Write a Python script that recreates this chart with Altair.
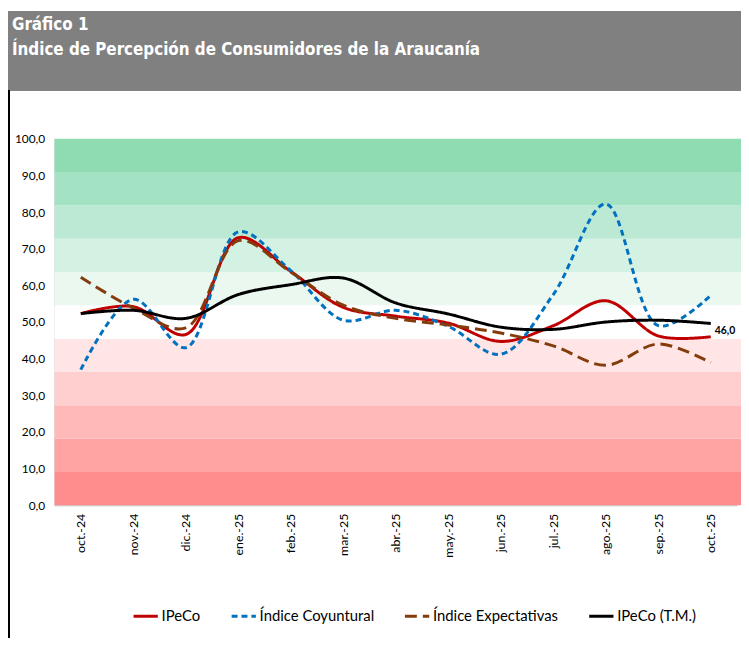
import altair as alt
import pandas as pd

months = ["oct.-24", "nov.-24", "dic.-24", "ene.-25", "feb.-25", "mar.-25", "abr.-25",
          "may.-25", "jun.-25", "jul.-25", "ago.-25", "sep.-25", "oct.-25"]
ipeco = [52.3, 54.2, 46.6, 73.0, 63.8, 54.0, 51.6, 49.7, 44.7, 49.0, 55.8, 46.2, 46.0]
coyuntural = [37.0, 56.2, 43.0, 74.6, 64.0, 50.5, 53.2, 48.8, 41.2, 57.5, 82.2, 49.0, 57.3]
expectativas = [62.2, 53.8, 48.4, 72.2, 63.6, 54.6, 51.0, 49.2, 47.0, 43.5, 38.2, 44.0, 38.9]
ipeco_tm = [52.3, 53.2, 51.0, 57.5, 60.2, 62.0, 55.2, 52.2, 48.6, 48.0, 50.0, 50.5, 49.6]

series_names = ["IPeCo", "Índice Coyuntural", "Índice Expectativas", "IPeCo (T.M.)"]
series_colors = ["#C00000", "#0070C0", "#843C0C", "#000000"]
series_dash = [[1, 0], [6, 4], [12, 6], [1, 0]]

band_colors = ["#FF8D8D", "#FFA3A3", "#FFB9B9", "#FFCECE", "#FFE5E5", "#FFFFFF",
               "#EAF8F0", "#D4F2E3", "#BCE9D4", "#A3E2C3", "#8FDBB2"]
y_ticks = [0, 10, 20, 30, 40, 50, 60, 70, 80, 90, 100]

title_line1 = "Gráfico 1"
title_line2 = "Índice de Percepción de Consumidores de la Araucanía"

rows = []
for name, vals in zip(series_names, [ipeco, coyuntural, expectativas, ipeco_tm]):
    for m, v in zip(months, vals):
        rows.append({"mes": m, "valor": v, "serie": name})
df = pd.DataFrame(rows)

nb = len(band_colors)
bands = pd.DataFrame({
    "lo": [i * 100 / nb for i in range(nb)],
    "hi": [(i + 1) * 100 / nb for i in range(nb)],
    "color": band_colors,
})

last = pd.DataFrame({"mes": [months[-1]], "valor": [ipeco[-1]],
                     "label": [f"{ipeco[-1]:.1f}".replace(".", ",")]})

W, H = 689, 370
PL, PT, PR, PB = 47, 129, 4, 134
FONT = "Lato"
TFONT = "DejaVu Sans Condensed, Lato, sans-serif"

yscale = alt.Scale(domain=[0, 100], nice=False)
xscale = alt.Scale(domain=months, padding=0.5)
yaxis = alt.Axis(
    title=None, values=y_ticks, grid=False, ticks=False, labelOverlap=False,
    domainColor="#BFBFBF", labelFont=FONT, labelFontSize=12,
    labelColor="#000000", labelPadding=10,
    labelExpr="replace(format(datum.value, '.1f'), '.', ',')")

band_layer = alt.Chart(bands).mark_rect().encode(
    x=alt.value(0), x2=alt.value(W + PR),
    y=alt.Y("lo:Q", scale=yscale, axis=yaxis),
    y2="hi:Q",
    fill=alt.Fill("color:N", scale=None),
)

lines = alt.Chart(df).mark_line(interpolate="catmull-rom", strokeWidth=3).encode(
    x=alt.X("mes:O", sort=months, scale=xscale, axis=alt.Axis(
        title=None, labelAngle=-90, ticks=False, domainColor="#BFBFBF",
        labelFont=FONT, labelFontSize=12.5, labelColor="#000000", labelPadding=8)),
    y=alt.Y("valor:Q", scale=yscale, axis=yaxis),
    color=alt.Color("serie:N", sort=series_names,
                    scale=alt.Scale(domain=series_names, range=series_colors),
                    legend=alt.Legend(title=None)),
    strokeDash=alt.StrokeDash("serie:N", sort=series_names,
                              scale=alt.Scale(domain=series_names, range=series_dash),
                              legend=alt.Legend(title=None)),
)

label = alt.Chart(last).mark_text(
    align="left", baseline="middle", dx=4, dy=-6, fontSize=10.5,
    font=FONT, fontWeight="bold", color="#000000"
).encode(x=alt.X("mes:O", sort=months, scale=xscale),
         y=alt.Y("valor:Q", scale=yscale, axis=yaxis), text="label:N")

header = alt.Chart(bands).mark_rect(color="#808080").encode(
    x=alt.value(-PL), x2=alt.value(W + PR),
    y=alt.value(-PT), y2=alt.value(-49),
)
border = alt.Chart(bands).mark_rule(color="#000000", strokeWidth=1.5).encode(
    x=alt.value(-PL + 0.75), y=alt.value(-49), y2=alt.value(H + PB),
)
t1 = alt.Chart(last).mark_text(
    align="left", baseline="alphabetic", font=TFONT,
    fontWeight="bold", fontSize=17, color="#FFFFFF"
).encode(x=alt.value(-43), y=alt.value(-110), text=alt.value(title_line1))
t2 = alt.Chart(last).mark_text(
    align="left", baseline="alphabetic", font=TFONT,
    fontWeight="bold", fontSize=17, color="#FFFFFF"
).encode(x=alt.value(-43), y=alt.value(-85), text=alt.value(title_line2))

chart = alt.layer(header, border, t1, t2, band_layer, lines, label).properties(
    width=W, height=H,
    autosize=alt.AutoSizeParams(type="none"),
    padding={"left": PL, "top": PT, "right": PR, "bottom": PB},
).configure_view(stroke=None).configure_legend(
    orient="none", legendX=78, legendY=468, direction="horizontal",
    symbolType="stroke", symbolStrokeWidth=3, symbolSize=600,
    labelFont=FONT, labelFontSize=15, labelColor="#000000",
    columnPadding=24, labelOffset=2,
)

chart.save("out.html", embed_options={"renderer": "svg", "actions": False})
